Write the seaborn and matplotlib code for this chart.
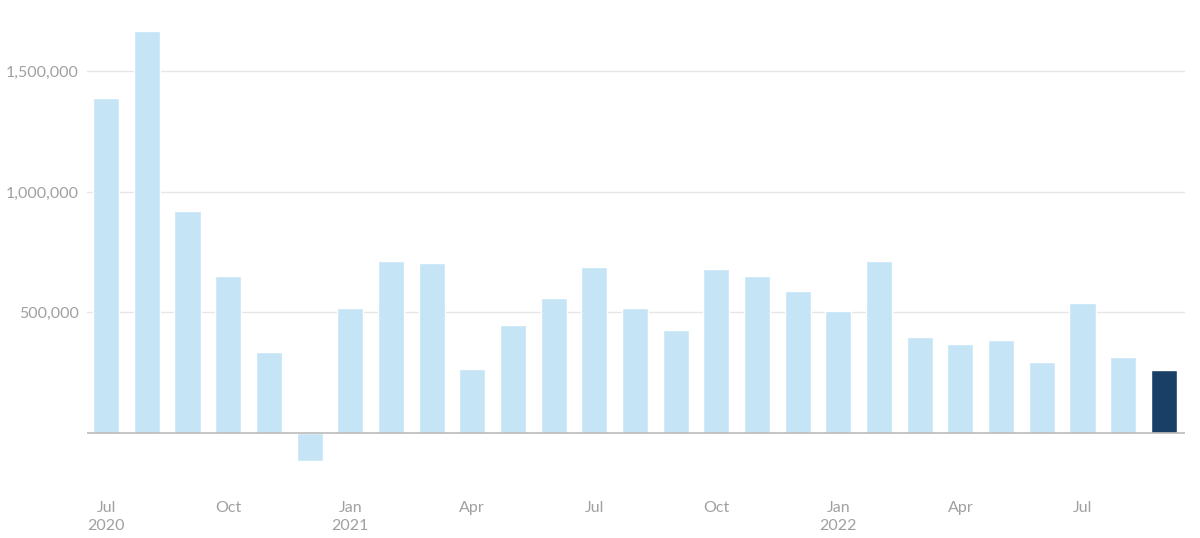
import matplotlib
matplotlib.use("Agg")
import matplotlib.pyplot as plt
import seaborn as sns
import pandas as pd
from matplotlib.ticker import FuncFormatter

months = ["2020-07", "2020-08", "2020-09", "2020-10", "2020-11", "2020-12",
          "2021-01", "2021-02", "2021-03", "2021-04", "2021-05", "2021-06",
          "2021-07", "2021-08", "2021-09", "2021-10", "2021-11", "2021-12",
          "2022-01", "2022-02", "2022-03", "2022-04", "2022-05", "2022-06",
          "2022-07", "2022-08", "2022-09"]
values = [1390000, 1668000, 920000, 650000, 335000, -116000,
          518000, 713000, 704000, 264000, 447000, 559000,
          688000, 518000, 426000, 679000, 650000, 588000,
          505000, 713000, 397000, 368000, 385000, 293000,
          538000, 314000, 263000]
highlight = ["past"] * 26 + ["latest"]
tick_idx = [0, 3, 6, 9, 12, 15, 18, 21, 24]
tick_labels = ["Jul\n2020", "Oct", "Jan\n2021", "Apr", "Jul", "Oct", "Jan\n2022", "Apr", "Jul"]
y_ticks = [500000, 1000000, 1500000]

df = pd.DataFrame({"pos": list(range(len(months))), "value": values, "group": highlight})

sns.set_style("white")
plt.rcParams["font.family"] = ["Lato", "DejaVu Sans"]

fig = plt.figure(figsize=(12, 5.38), dpi=100)
ax = fig.add_axes([87 / 1200, 1 - 480 / 538, (1185 - 87) / 1200, (480 - 10) / 538])

ax.grid(axis="y", color="#e6e6e6", linewidth=1, zorder=0)
ax.set_axisbelow(True)

sns.barplot(data=df, x="pos", y="value", hue="group", dodge=False,
            palette={"past": "#c5e4f6", "latest": "#1a3f66"}, saturation=1,
            width=0.64, legend=False, ax=ax, native_scale=True, zorder=2)

ax.axhline(0, color="#bbbbbb", linewidth=1.2, zorder=3)

ax.set_xlim(-0.47, 26.52)
ax.set_ylim(-195000, 1755000)
ax.set_yticks(y_ticks)
ax.yaxis.set_major_formatter(FuncFormatter(lambda v, p: f"{int(v):,}"))
ax.set_xticks(tick_idx)
ax.set_xticklabels(tick_labels, linespacing=1.4)
ax.tick_params(axis="both", length=0, labelsize=11.5, labelcolor="#a0a0a0")
ax.tick_params(axis="x", pad=15)
ax.tick_params(axis="y", pad=6)
ax.set_xlabel("")
ax.set_ylabel("")
for s in ax.spines.values():
    s.set_visible(False)

fig.savefig("out.png", dpi=100)
